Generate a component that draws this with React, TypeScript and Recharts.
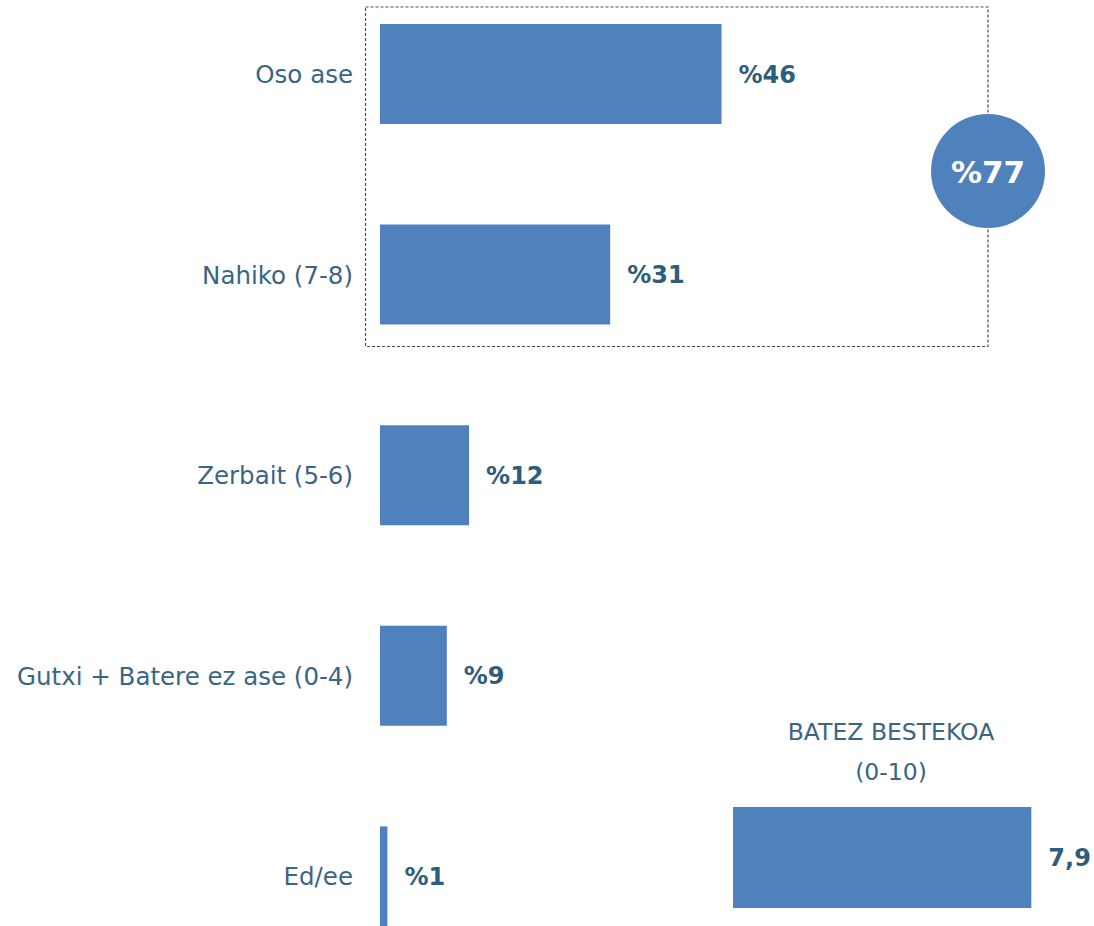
import { BarChart, Bar, XAxis, YAxis, LabelList } from 'recharts';

const categories = ['Oso ase', 'Nahiko (7-8)', 'Zerbait (5-6)', 'Gutxi + Batere ez ase (0-4)', 'Ed/ee'];
const percents = [46, 31, 12, 9, 1];
const meanLabel = ['BATEZ BESTEKOA', '(0-10)'];
const meanValue = [7.9];

const BAR = '#4f81bd';
const TEXT = '#3a6585';
const VALUE = '#2f5d7c';
const FONT = '"Century Gothic", "DejaVu Sans", sans-serif';

const data = categories.map((name, i) => ({ name, value: percents[i] }));
const meanData = [{ name: 'mean', value: meanValue[0] }];
const topTwo = percents[0] + percents[1];

export default function App() {
    return (
        <div style={{ position: 'fixed', left: 0, top: 0, width: 1094, height: 926, overflow: 'hidden', fontFamily: FONT, background: '#ffffff' }}>
            <div style={{ position: 'absolute', left: 0, top: -26 }}>
                <BarChart
                    width={974}
                    height={1003}
                    data={data}
                    layout="vertical"
                    margin={{ top: 0, right: 0, bottom: 0, left: 0 }}
                >
                    <XAxis type="number" domain={[0, 80]} hide />
                    <YAxis
                        type="category"
                        dataKey="name"
                        width={380}
                        axisLine={false}
                        tickLine={false}
                        tickSize={0}
                        tickMargin={27}
                        tick={{ fill: TEXT, fontSize: 24.5, fontFamily: FONT }}
                    />
                    <Bar dataKey="value" fill={BAR} barSize={100} isAnimationActive={false}>
                        <LabelList
                            dataKey="value"
                            position="right"
                            offset={17}
                            formatter={(v: number) => '%' + v}
                            style={{ fill: VALUE, fontSize: 24, fontWeight: 700, fontFamily: FONT }}
                        />
                    </Bar>
                </BarChart>
            </div>

            <svg width={1094} height={926} style={{ position: 'absolute', left: 0, top: 0, pointerEvents: 'none' }}>
                <rect x={365.5} y={7} width={622.5} height={339.5} fill="none" stroke="#3f4f66" strokeWidth={1.2} strokeDasharray="3 2" />
                <circle cx={988} cy={171} r={57} fill={BAR} />
                <text x={988} y={172} textAnchor="middle" dominantBaseline="central" fill="#ffffff" fontSize={31} fontWeight={700} fontFamily={FONT}>
                    {'%' + topTwo}
                </text>
            </svg>

            <div style={{ position: 'absolute', left: 733, top: 712, width: 316, textAlign: 'center', color: TEXT, fontSize: 23.5, lineHeight: '40px' }}>
                {meanLabel.map((l) => (
                    <div key={l}>{l}</div>
                ))}
            </div>

            <div style={{ position: 'absolute', left: 733, top: 787 }}>
                <BarChart
                    width={361}
                    height={141}
                    data={meanData}
                    layout="vertical"
                    margin={{ top: 0, right: 40, bottom: 0, left: 0 }}
                >
                    <XAxis type="number" domain={[0, 8.5]} hide />
                    <YAxis type="category" dataKey="name" hide />
                    <Bar dataKey="value" fill={BAR} barSize={101} isAnimationActive={false}>
                        <LabelList
                            dataKey="value"
                            position="right"
                            offset={17}
                            formatter={(v: number) => String(v).replace('.', ',')}
                            style={{ fill: VALUE, fontSize: 24, fontWeight: 700, fontFamily: FONT }}
                        />
                    </Bar>
                </BarChart>
            </div>
        </div>
    );
}
